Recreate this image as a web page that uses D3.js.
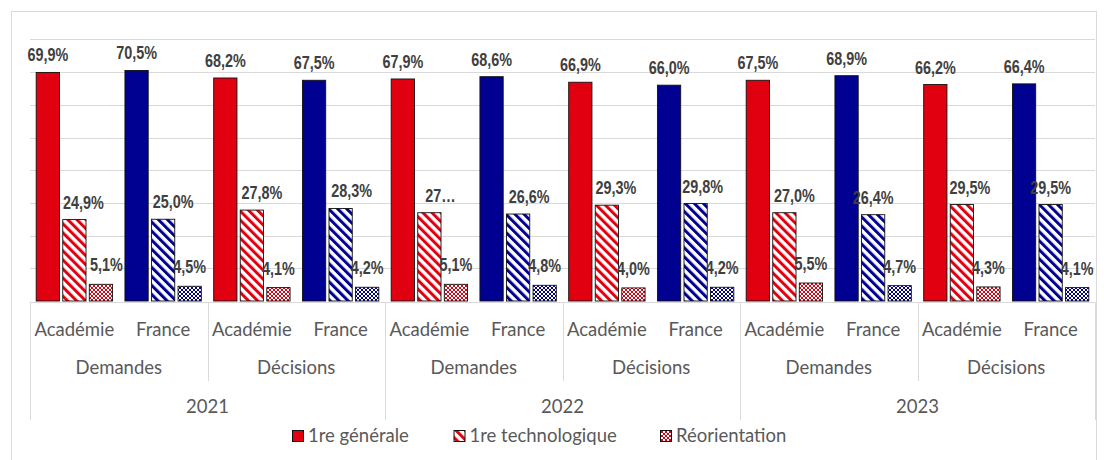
<!DOCTYPE html>
<html><head><meta charset="utf-8">
<script src="https://cdn.jsdelivr.net/npm/d3@7"></script>
<style>
html,body{margin:0;padding:0;background:#fff;}
svg{display:block;}
</style></head>
<body>
<svg id="chart" width="1104" height="460"></svg>
<script>
// ---- data ----
const years = ["2021", "2022", "2023"];
const kinds = ["Demandes", "Décisions"];
const zones = ["Académie", "France"];
const seriesNames = ["1re générale", "1re technologique", "Réorientation"];
const generale      = [69.9, 70.5, 68.2, 67.5, 67.9, 68.6, 66.9, 66.0, 67.5, 68.9, 66.2, 66.4];
const technologique = [24.9, 25.0, 27.8, 28.3, 27.0, 26.6, 29.3, 29.8, 27.0, 26.4, 29.5, 29.5];
const reorientation = [5.1, 4.5, 4.1, 4.2, 5.1, 4.8, 4.0, 4.2, 5.5, 4.7, 4.3, 4.1];
const yTicks = [0, 10, 20, 30, 40, 50, 60, 70, 80];
const truncatedLabels = [{ series: 1, index: 4, text: "27…" }];

// ---- styling (label nudges, as in the original) ----
const labelShift = [
  [0,0,0,0,0,0,0,0,0,0,0,0],
  [9,10,10,11,11,11,9,7,10,0,8,0],
  [5.5,0,0,0,0,0,0,0,0,0,0,0]
];
const labelLift = [11, 11, 13];

const seriesValues = [generale, technologique, reorientation];
const categories = [];
years.forEach(y => kinds.forEach(k => zones.forEach(z => categories.push({ year: y, kind: k, zone: z }))));

const RED = "#E1000F", BLUE = "#000091";
const zoneColor = { "Académie": RED, "France": BLUE };
const svg = d3.select("#chart");

// frame
svg.append("rect").attr("x", 11.5).attr("y", 11.5).attr("width", 1085).attr("height", 460)
  .attr("fill", "none").attr("stroke", "#d9d9d9").attr("stroke-width", 1);

// patterns
const defs = svg.append("defs");
Object.entries(zoneColor).forEach(([z, c], k) => {
  const p = defs.append("pattern").attr("id", "hatch" + k).attr("patternUnits", "userSpaceOnUse")
    .attr("width", 6.4).attr("height", 6.4).attr("patternTransform", "rotate(-45)");
  p.append("rect").attr("width", 6.4).attr("height", 6.4).attr("fill", "#fff");
  p.append("rect").attr("width", 3).attr("height", 6.4).attr("fill", c);
  const q = defs.append("pattern").attr("id", "check" + k).attr("patternUnits", "userSpaceOnUse")
    .attr("width", 4).attr("height", 4);
  q.append("rect").attr("width", 4).attr("height", 4).attr("fill", "#fff");
  q.append("path").attr("d", "M0,0L4,4M4,0L0,4").attr("stroke", c).attr("stroke-width", 1);
});
function fillFor(s, zone) {
  const k = zone === "Académie" ? 0 : 1;
  if (s === 0) return zoneColor[zone];
  if (s === 1) return `url(#hatch${k})`;
  return `url(#check${k})`;
}

// scales
const x0 = d3.scaleBand().domain(d3.range(categories.length)).range([30, 1095]).padding(0);
const x1 = d3.scaleBand().domain(d3.range(seriesNames.length)).range([0, x0.bandwidth()])
  .paddingInner(0.124).paddingOuter(0.233);
const y = d3.scaleLinear().domain([0, 80]).range([301, 39.4]);

// gridlines
svg.append("g").selectAll("line").data(yTicks.filter(t => t > 0)).join("line")
  .attr("x1", 30).attr("x2", 1095).attr("y1", d => Math.round(y(d)) + 0.5).attr("y2", d => Math.round(y(d)) + 0.5)
  .attr("stroke", "#d9d9d9").attr("stroke-width", 1);
svg.append("line").attr("x1", 30).attr("x2", 1095).attr("y1", 302.5).attr("y2", 302.5)
  .attr("stroke", "#d9d9d9");

// category boundary lines
const bounds = d3.range(categories.length + 1).filter(i => i % 2 === 0);
svg.append("g").selectAll("line").data(bounds).join("line")
  .attr("x1", i => Math.round(i < categories.length ? x0(i) : x0.range()[1]) + 0.5)
  .attr("x2", i => Math.round(i < categories.length ? x0(i) : x0.range()[1]) + 0.5)
  .attr("y1", 302.5).attr("y2", i => (i % 4 === 0 ? 420 : 381))
  .attr("stroke", "#d9d9d9");

// bars
const barsG = svg.append("g");
seriesValues.forEach((vals, s) => {
  barsG.append("g").selectAll("rect").data(vals).join("rect")
    .attr("x", (d, i) => x0(i) + x1(s)).attr("width", x1.bandwidth())
    .attr("y", d => y(d)).attr("height", d => y(0) - y(d))
    .attr("fill", (d, i) => fillFor(s, categories[i].zone))
    .attr("stroke", "#111").attr("stroke-width", 0.9);
});

// value labels
const fmt = v => d3.format(".1f")(v).replace(".", ",") + "%";
const labelsG = svg.append("g");
seriesValues.forEach((vals, s) => {
  labelsG.append("g").selectAll("text").data(vals).join("text")
    .attr("transform", (d, i) => `translate(${x0(i) + x1(s) + x1.bandwidth() / 2 + labelShift[s][i]},${y(d) - labelLift[s]}) scale(0.8,1)`)
    .attr("text-anchor", "middle")
    .attr("font-family", "'Liberation Sans', Arial, sans-serif").attr("font-weight", "bold")
    .attr("font-size", 18).attr("fill", "#404040")
    .text((d, i) => {
      const t = truncatedLabels.find(o => o.series === s && o.index === i);
      return t ? t.text : fmt(d);
    });
});

// axis labels
const axisFont = "Lato, 'Open Sans', sans-serif";
const axG = svg.append("g").attr("font-family", axisFont).attr("fill", "#595959").attr("font-size", 18.5)
  .attr("text-anchor", "middle");
axG.selectAll("text.zone").data(categories).join("text").attr("class", "zone")
  .attr("x", (d, i) => x0(i) + x0.bandwidth() / 2).attr("y", 336).text(d => d.zone);
const kindGroups = d3.range(categories.length / 2);
axG.selectAll("text.kind").data(kindGroups).join("text").attr("class", "kind")
  .attr("x", g => x0(g * 2) + x0.bandwidth()).attr("y", 374).text(g => kinds[g % 2]);
axG.selectAll("text.year").data(years).join("text").attr("class", "year")
  .attr("x", (d, g) => x0(g * 4) + x0.bandwidth() * 2).attr("y", 413).text(d => d);

// legend
const legendX = [292, 453.5, 660];
const lg = svg.append("g").selectAll("g").data(seriesNames).join("g")
  .attr("transform", (d, s) => `translate(${legendX[s]},430)`);
lg.append("rect").attr("x", 0.5).attr("y", 0.5).attr("width", 11).attr("height", 11)
  .attr("fill", (d, s) => fillFor(s, "Académie")).attr("stroke", "#111").attr("stroke-width", 1);
lg.append("text").attr("x", 16).attr("y", 12).attr("font-family", axisFont).attr("font-size", 18.5)
  .attr("fill", "#595959").text(d => d);
</script>
</body></html>
